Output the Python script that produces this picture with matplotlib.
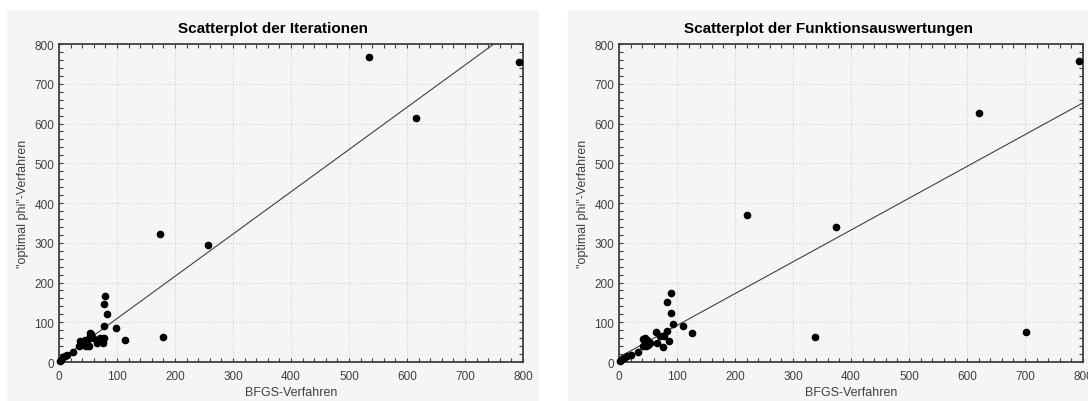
import matplotlib.pyplot as plt
import numpy as np
from matplotlib.patches import Rectangle
from matplotlib.ticker import MultipleLocator

# Iterationen: BFGS vs "optimal phi"
iter_bfgs = [535, 793, 616, 174, 257, 179, 114, 98, 79, 77, 83, 77, 77, 75, 70, 65,
             54, 53, 49, 40, 37, 46, 43, 58, 52, 35, 56, 45, 41, 24, 11, 7, 3, 14, 1]
iter_phi = [767, 755, 615, 321, 295, 64, 56, 85, 167, 145, 122, 91, 60, 49, 60, 47,
            74, 65, 52, 44, 52, 39, 48, 60, 39, 39, 70, 55, 50, 24, 16, 12, 6, 18, 3]

# Funktionsauswertungen: BFGS vs "optimal phi"
feval_bfgs = [793, 621, 220, 374, 338, 701, 126, 111, 93, 89, 83, 89, 83, 86, 76, 66,
              63, 71, 78, 44, 50, 41, 47, 53, 41, 48, 45, 52, 32, 20, 14, 9, 3, 1]
feval_phi = [758, 626, 369, 339, 62, 75, 73, 91, 96, 174, 151, 124, 79, 54, 38, 47,
             75, 65, 66, 52, 44, 59, 39, 48, 39, 55, 60, 50, 25, 18, 14, 10, 5, 2]

# Regression lines (intercept, slope) as drawn in the original
iter_fit = (3, 1.063)
feval_fit = (12, 0.8)

titles = ["Scatterplot der Iterationen", "Scatterplot der Funktionsauswertungen"]
xlabel = "BFGS-Verfahren"
ylabel = '"optimal phi"-Verfahren'

W, H = 1088, 402
bg = "#f5f5f5"
fig = plt.figure(figsize=(W / 100, H / 100), dpi=100, facecolor="white")
plt.rcParams["font.family"] = ["Liberation Sans", "DejaVu Sans"]

panels = [(7, 538), (568, 1088)]
axes_px = [(59, 523), (619, 1083)]
top, bottom = 45, 363
datasets = [(iter_bfgs, iter_phi, iter_fit), (feval_bfgs, feval_phi, feval_fit)]

for (p0, p1), (a0, a1), title, (xs, ys, fit) in zip(panels, axes_px, titles, datasets):
    fig.patches.append(Rectangle((p0 / W, 0), (p1 - p0) / W, (H - 11) / H,
                                 transform=fig.transFigure, color=bg, zorder=-1))
    ax = fig.add_axes([a0 / W, 1 - bottom / H, (a1 - a0) / W, (bottom - top) / H])
    ax.set_facecolor(bg)
    ax.set_xlim(0, 800)
    ax.set_ylim(0, 800)
    ax.xaxis.set_major_locator(MultipleLocator(100))
    ax.yaxis.set_major_locator(MultipleLocator(100))
    ax.xaxis.set_minor_locator(MultipleLocator(20))
    ax.yaxis.set_minor_locator(MultipleLocator(20))
    ax.tick_params(which="both", direction="in", top=True, right=True,
                   color="#404040", labelcolor="#404040", labelsize=8.5)
    ax.tick_params(which="major", length=3, width=0.8)
    ax.tick_params(which="minor", length=3, width=0.8)
    ax.tick_params(axis="x", pad=6)
    for s in ax.spines.values():
        s.set_color("#404040")
        s.set_linewidth(1.3)
    ax.grid(True, which="major", linestyle=":", color="#d0d0d0", linewidth=0.8)
    ax.set_axisbelow(True)

    xl = np.array([0, 800])
    ax.plot(xl, fit[0] + fit[1] * xl, color="#404040", linewidth=0.8, zorder=2)
    ax.plot(xs, ys, "o", color="black", markersize=4.5, zorder=3, clip_on=False)

    ax.set_xlabel(xlabel, color="#404040", fontsize=9, labelpad=3)
    ax.set_ylabel(ylabel, color="#404040", fontsize=9, labelpad=4)
    fig.text((p0 + p1) / 2 / W, 1 - 29 / H, title, ha="center", va="center",
             fontsize=11, fontweight="bold", color="black")

fig.savefig("out.png", dpi=100, facecolor="white")
